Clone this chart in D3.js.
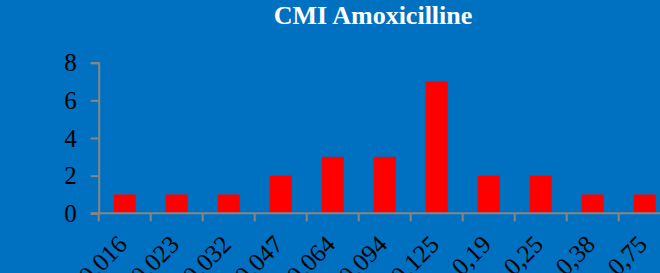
<!DOCTYPE html>
<html>
<head>
<meta charset="utf-8">
<script src="https://cdn.jsdelivr.net/npm/d3@7"></script>
<style>
  html, body { margin: 0; padding: 0; background: #0070c0; }
  svg { display: block; }
</style>
</head>
<body>
<div class="canvas"></div>
<script>
const categories = ["0,016", "0,023", "0,032", "0,047", "0,064", "0,094", "0,125", "0,19", "0,25", "0,38", "0,75"];
const counts = [1, 1, 1, 2, 3, 3, 7, 2, 2, 1, 1];
const yTicks = [0, 2, 4, 6, 8];
const title = "CMI Amoxicilline";

const width = 660;
const height = 273;
const serif = "'Liberation Serif', 'Times New Roman', serif";

const svg = d3
  .select(".canvas")
  .append("svg")
  .attr("width", width)
  .attr("height", height)
  .attr("font-family", serif);

svg.append("rect")
  .attr("width", width)
  .attr("height", height)
  .attr("fill", "#0070c0");

// plot runs past the right edge, as in the original
const plot = { left: 98.7, right: 670.7, top: 62.7, bottom: 213.3 };

// scales
const x = d3.scaleBand()
  .domain(categories)
  .range([plot.left, plot.right])
  .paddingInner(0.577)
  .paddingOuter(0.2885);

const y = d3.scaleLinear().domain([0, 8]).range([plot.bottom, plot.top]);

// bars
svg.append("g")
  .selectAll("rect")
  .data(categories)
  .enter()
  .append("rect")
  .attr("x", (d) => x(d))
  .attr("width", x.bandwidth())
  .attr("y", (d, i) => y(counts[i]))
  .attr("height", (d, i) => y(0) - y(counts[i]))
  .attr("fill", "#ff0000");

const axisColor = "#868686";

// y axis
const yAxis = d3.axisLeft(y).tickValues(yTicks).tickSize(8).tickPadding(14);
const yAxisGroup = svg.append("g")
  .attr("transform", `translate(${plot.left},0)`)
  .call(yAxis)
  .attr("font-family", serif)
  .attr("font-size", 25);
yAxisGroup.select(".domain").attr("stroke", axisColor).attr("stroke-width", 2);
yAxisGroup.selectAll(".tick line").attr("stroke", axisColor).attr("stroke-width", 2);
yAxisGroup.selectAll("text").attr("fill", "#000");

// x axis: line, boundary ticks, rotated labels
const xAxisGroup = svg.append("g")
  .attr("class", "x-axis")
  .attr("font-family", serif)
  .attr("font-size", 25);
xAxisGroup.append("line")
  .attr("x1", plot.left - 8)
  .attr("x2", plot.right)
  .attr("y1", y(0))
  .attr("y2", y(0))
  .attr("stroke", axisColor)
  .attr("stroke-width", 2);

const bounds = d3.range(categories.length + 1).map((i) => plot.left + i * x.step());
xAxisGroup.selectAll(".xtick")
  .data(bounds)
  .enter()
  .append("line")
  .attr("x1", (d) => d)
  .attr("x2", (d) => d)
  .attr("y1", y(0))
  .attr("y2", y(0) + 8)
  .attr("stroke", axisColor)
  .attr("stroke-width", 2);

xAxisGroup.selectAll(".xlabel")
  .data(categories)
  .enter()
  .append("text")
  .attr("text-anchor", "end")
  .attr("transform", (d) => `translate(${x(d) + x.bandwidth() / 2 + 4},246) rotate(-45)`)
  .attr("fill", "#000")
  .text((d) => d);

// title
svg.append("text")
  .attr("x", 373)
  .attr("y", 24)
  .attr("text-anchor", "middle")
  .attr("fill", "#fff")
  .attr("font-size", 26)
  .attr("font-weight", "bold")
  .text(title);
</script>
</body>
</html>
